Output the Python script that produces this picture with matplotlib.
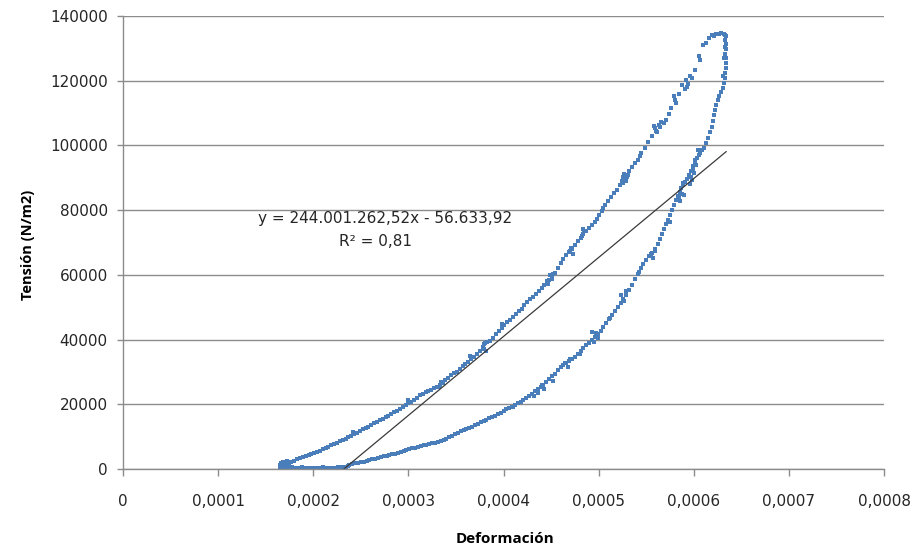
import matplotlib
matplotlib.use("Agg")
import matplotlib.pyplot as plt
import numpy as np

plt.rcParams['font.family'] = ['DejaVu Sans']

# deformation in microstrain (x 1e-6), tension in N/m2
# unloading branch, from the peak back down to the start (plus scattered readings)
x_down = [633, 629, 626, 623, 621, 619, 616, 613, 610, 607, 606, 601, 598, 594, 592, 591, 593, 588, 584, 580,
          576, 574, 571, 569, 566, 565, 563, 560, 556, 552, 549, 545, 543, 541, 538, 535, 532, 531, 529, 528,
          526, 525, 522, 519, 516, 513, 510, 507, 505, 503, 500, 498, 496, 493, 490, 487, 484, 481,
          478, 475, 472, 469, 466, 463, 460, 457, 454, 451, 448, 446, 443, 440, 437, 434, 431, 428, 425, 422,
          419, 416, 413, 410, 407, 404, 401, 398, 395, 392, 389, 386, 383, 380, 378, 375, 372, 369, 366, 363,
          360, 357, 354, 351, 348, 345, 342, 339, 336, 333, 330, 327, 324, 321, 318, 315, 312, 309, 306, 303,
          300, 297, 294, 291, 288, 285, 282, 279, 276, 273, 270, 267, 264, 261, 258, 255, 252, 249, 246, 243,
          240, 237, 234, 231, 228, 225, 222, 219, 216, 213, 210, 207, 204, 201, 198, 195, 192, 189, 186, 183,
          180, 177, 174, 171, 169, 168, 167, 166, 166, 165, 165,
          527, 529, 530, 526, 559, 561, 558, 581, 579, 596, 449, 447, 451, 471, 473, 485, 483, 381, 379, 382,
          334, 332, 452, 470, 484, 398, 365, 300, 242, 170, 172, 168]
y_down = [134100, 134600, 134300, 134400, 133800, 134000, 133200, 131500, 131000, 126500, 127500, 123300,
          120800, 119000, 120200, 117500, 118000, 118700, 116000, 114000, 111500, 109800, 107800, 106800,
          107300, 105800, 106300, 104400, 103000, 101000, 99300, 97800, 96800, 95500, 94600, 93200, 92200,
          91000, 90600, 89500, 90100, 88900, 87800, 86300, 85200, 84100, 82800, 81600, 80800,
          79700, 78500, 77200, 76400, 75400, 74400, 73500, 72600, 71500, 70400, 69200, 68000, 67100, 66100,
          65000, 63700, 62200, 60700, 59500, 58500, 58000, 57000, 56000, 54900, 54100, 53200, 52500, 51600,
          50600, 49600, 48800, 48000, 47100, 46200, 45300, 44400, 43600, 42800, 41600, 40500, 39700, 39200,
          38500, 37800, 36500, 35400, 34700, 34000, 33100, 32400, 31700, 30800, 30100, 29600, 28900, 28100,
          27400, 26700, 26000, 25400, 24900, 24500, 24200, 23800, 23300, 22800, 22000, 21400, 20700, 20300,
          19700, 19200, 18600, 18000, 17500, 17000, 16500, 16100, 15600, 15200, 14600, 14100, 13500, 13100,
          12800, 12300, 11700, 11200, 10800, 10300, 9800, 9300, 9000, 8500, 8100, 7700, 7300, 6900, 6500,
          6100, 5700, 5300, 5000, 4600, 4200, 3900, 3600, 3300, 3000, 2600, 2300, 2000, 1700, 1500, 2200,
          1000, 1900, 600, 1300, 300,
          91300, 89000, 90200, 88400, 105500, 104200, 106000, 113000, 115200, 121500, 59800, 57300, 58700,
          68200, 66400, 73700, 72000, 38900, 37200, 36400, 26800, 25300, 60400, 67500, 74200, 44900, 34900,
          21200, 11300, 2300, 1400, 800]

# loading branch, from the start up to the peak (plus scattered readings)
x_up = [165, 166, 167, 168, 169, 170, 172, 174, 176, 178, 180, 182, 184, 186, 188, 190, 192, 194, 196, 198,
        200, 202, 204, 206, 208, 210, 212, 214, 216, 218, 220, 222, 224, 226, 228, 230, 232, 234, 236, 238,
        241, 244, 247, 250, 253, 256, 259, 262, 265, 268, 271, 274, 277, 280, 283, 286, 289, 292, 295, 298,
        301, 304, 307, 310, 313, 316, 319, 322, 325, 328, 331, 334, 337, 340, 343, 346, 349, 352, 355, 358,
        361, 364, 367, 370, 373, 376, 379, 382, 385, 388, 391, 394, 397, 400, 403, 406, 409, 412, 415, 418,
        421, 424, 427, 430, 433, 436, 439, 442, 445, 448, 451, 454, 457, 460, 463, 466, 469, 472, 475, 478,
        481, 484, 487, 490, 493, 496, 499, 502, 505, 508, 511, 514, 517, 520, 523, 526, 529, 532, 535, 538,
        541, 544, 547, 550, 553, 556, 559, 562, 565, 567, 569, 571, 573, 575, 577, 579, 581, 583, 585, 587,
        589, 591, 593, 595, 597, 599, 601, 603, 605, 607, 609, 611, 613, 615, 617, 619, 620, 621, 622, 623,
        625, 627, 629, 631, 632, 633, 633, 634, 634, 634, 633, 634, 634, 633, 634, 632,
        597, 599, 601, 600, 602, 598, 586, 588, 584, 589, 557, 559, 555, 524, 527, 529, 495, 497, 499, 493,
        465, 468, 470, 436, 440, 443, 432, 170, 172, 174, 168, 596, 604, 590, 575, 542, 512, 480, 452, 410,
        632, 631, 633]
y_up = [100, 600, 300, 900, 200, 500, 100, 400, 200, 600, 300, 100, 400, 200, 500, 100, 300, 0, 400, 200,
        100, 400, 200, 0, 300, 500, 200, 100, 300, 400, 100, 200, 400, 600, 300, 500, 700, 400, 900, 1200,
        1400, 1700, 1900, 2100, 2300, 2600, 2800, 3000, 3200, 3400, 3600, 3900, 4100, 4300, 4500, 4700, 4900,
        5300, 5600, 5900, 6200, 6400, 6600, 6800, 7000, 7300, 7500, 7700, 7900, 8100, 8400, 8700, 9000, 9400,
        9800, 10200, 10700, 11200, 11600, 11900, 12300, 12700, 13100, 13500, 13900, 14400, 14800, 15200,
        15700, 16100, 16500, 16900, 17400, 17900, 18400, 18900, 19300, 19800, 20300, 20800, 21400, 22000,
        22600, 23300, 24000, 24700, 25400, 26000, 26800, 27700, 28600, 29500, 30500, 31400, 32100, 32700,
        33300, 34000, 34700, 35500, 36400, 37300, 38200, 39000, 39900, 40800, 41700, 42700, 43800, 45000,
        46300, 47600, 48800, 50000, 51200, 52400, 53800, 55300, 56900, 58600, 60300, 62000, 63400, 64600,
        65700, 66800, 68100, 69500, 71000, 72600, 74200, 75600, 77000, 78500, 80000, 81600, 83000, 84400,
        85600, 86800, 87800, 88700, 89600, 90800, 92200, 93500, 94800, 96000, 96900, 97700, 98500, 99300,
        100700, 102400, 104000, 105600, 107500, 109300, 111000, 112600, 114000, 115300, 116500, 117800,
        119300, 120800, 122400, 123900, 125400, 126900, 128400, 129800, 131200, 132600, 133800, 134400,
        90200, 92800, 95600, 91500, 94100, 89300, 82900, 85100, 84200, 88400, 65300, 67400, 66500, 53900,
        51800, 55100, 39200, 41900, 40600, 42300, 32800, 31600, 33900, 23600, 25900, 24800, 22700, 1800,
        2400, 1200, 2100, 88000, 98600, 84700, 76400, 60800, 46800, 35400, 27100, 19100,
        127000, 121500, 130500]

# linear trendline
slope = 244001262.52
intercept = -56633.92
r2 = 0.81

x_ticks = [0, 0.0001, 0.0002, 0.0003, 0.0004, 0.0005, 0.0006, 0.0007, 0.0008]
x_labels = ['0', '0,0001', '0,0002', '0,0003', '0,0004', '0,0005', '0,0006', '0,0007', '0,0008']
y_ticks = [0, 20000, 40000, 60000, 80000, 100000, 120000, 140000]
y_labels = ['0', '20000', '40000', '60000', '80000', '100000', '120000', '140000']

strain = np.array(x_down + x_up) * 1e-6
stress = np.array(y_down + y_up)

fig = plt.figure(figsize=(9.14, 5.53), dpi=100)
ax = fig.add_axes([0.1346, 0.1519, 0.8326, 0.8192])

ax.plot(strain, stress, linestyle='none', marker='s', markersize=2.5,
        color='#4a7ebb', markeredgewidth=0)

xl = np.array([strain.min(), strain.max()])
ax.plot(xl, slope * xl + intercept, color='#3a3a3a', linewidth=0.9)

ax.set_xlim(0, 0.0008)
ax.set_ylim(0, 140000)
ax.set_xticks(x_ticks)
ax.set_xticklabels(x_labels)
ax.set_yticks(y_ticks)
ax.set_yticklabels(y_labels)

ax.yaxis.grid(True, color='#8c8c8c', linewidth=1.0)
ax.set_axisbelow(True)
for s in ['top', 'right']:
    ax.spines[s].set_visible(False)
for s in ['left', 'bottom']:
    ax.spines[s].set_color('#8c8c8c')
    ax.spines[s].set_linewidth(1.0)
ax.tick_params(axis='x', direction='out', length=5, width=1, color='#8c8c8c',
               labelsize=11, labelcolor='#262626', pad=13)
ax.tick_params(axis='y', direction='out', length=4, width=1, color='#8c8c8c',
               labelsize=11, labelcolor='#262626', pad=7)

label_font = ['Open Sans', 'DejaVu Sans']
ax.set_xlabel('Deformación', fontsize=11, fontweight='bold', family=label_font)
ax.set_ylabel('Tensión (N/m2)', fontsize=10.5, fontweight='bold', family=label_font)
ax.xaxis.set_label_coords(0.502, -0.14)
ax.yaxis.set_label_coords(-0.116, 0.494)

eq = 'y = {}x - {}'.format('244.001.262,52', '56.633,92')
ax.text(0.344, 0.554, eq, transform=ax.transAxes, ha='center', va='center',
        fontsize=11, color='#262626')
ax.text(0.332, 0.503, 'R² = {}'.format(str(r2).replace('.', ',')), transform=ax.transAxes,
        ha='center', va='center', fontsize=11, color='#262626')

fig.savefig('out.png', dpi=100)
